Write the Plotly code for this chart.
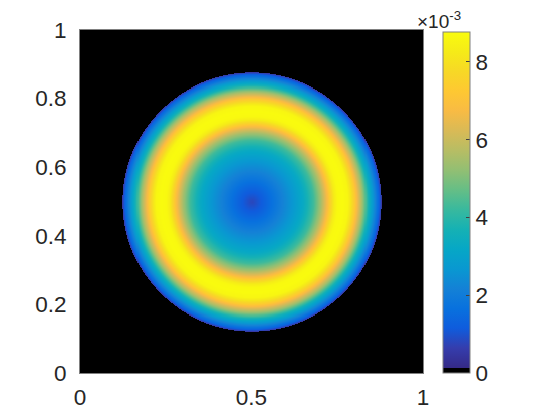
import numpy as np
import plotly.graph_objects as go

# radial profile (centre at 0.5, 0.5)
radius = [0.0, 0.03, 0.06, 0.09, 0.12, 0.15, 0.18, 0.20, 0.22, 0.23, 0.24,
          0.25, 0.265, 0.28, 0.29, 0.30, 0.32, 0.34, 0.36, 0.37, 0.377]
value = [0.8, 1.2, 1.7, 2.2, 2.7, 3.3, 4.3, 5.4, 6.8, 7.6, 8.3,
         8.7, 8.77, 8.6, 8.0, 7.3, 5.6, 3.6, 2.1, 1.3, 0.5]  # x 1e-3
disk_radius = 0.377
zmax = 8.77e-3

cb_ticks = [0, 2, 4, 6, 8]
x_ticks = [0, 0.5, 1]
y_ticks = [0, 0.2, 0.4, 0.6, 0.8, 1]

# grid
n = 341
xs = np.linspace(0, 1, n)
ys = np.linspace(0, 1, n)
X, Y = np.meshgrid(xs, ys)
R = np.hypot(X - 0.5, Y - 0.5)
Z = np.interp(R, radius, value) * 1e-3
Z[R > disk_radius] = 0.0

# black + parula colormap
parula = [
    (0.2081, 0.1663, 0.5292), (0.2081, 0.2386, 0.6771), (0.0591, 0.3598, 0.8683),
    (0.0329, 0.4430, 0.8720), (0.0779, 0.5040, 0.8384), (0.0343, 0.5966, 0.8199),
    (0.0228, 0.6535, 0.7768), (0.0843, 0.6928, 0.7062), (0.2178, 0.7250, 0.6193),
    (0.3953, 0.7459, 0.5244), (0.5709, 0.7485, 0.4494), (0.7184, 0.7411, 0.3905),
    (0.8507, 0.7299, 0.3360), (0.9739, 0.7314, 0.2666), (0.9955, 0.7861, 0.1967),
    (0.9697, 0.8481, 0.1475), (0.9598, 0.9218, 0.0948), (0.9763, 0.9831, 0.0538),
]
b = 1 / 65
cs = [[0, "rgb(0,0,0)"], [b, "rgb(0,0,0)"]]
for i, c in enumerate(parula):
    pos = b + (1 - b) * i / (len(parula) - 1)
    cs.append([pos, "rgb(%d,%d,%d)" % tuple(int(round(v * 255)) for v in c)])

font = dict(family="Liberation Sans, Arial, sans-serif", size=22.5, color="#262626")

fig = go.Figure(go.Heatmap(
    x=xs, y=ys, z=Z, zmin=0, zmax=zmax, colorscale=cs, zsmooth="best",
    colorbar=dict(
        x=1.058, xanchor="left", y=0, yanchor="bottom", len=0.994,
        xpad=0, ypad=0,
        thickness=27, outlinecolor="#808080", outlinewidth=1,
        tickvals=[t * 1e-3 for t in cb_ticks], ticktext=[str(t) for t in cb_ticks],
        ticks="inside", ticklen=4, tickcolor="#404040", tickfont=font,
    ),
))

# page body adds an 8px offset, so the figure is 8px smaller each way
fig.update_layout(
    width=552, height=412,
    margin=dict(l=72, r=137, t=22, b=47),
    paper_bgcolor="white", plot_bgcolor="black",
    font=font,
    annotations=[dict(
        text="×10<sup>-3</sup>", xref="paper", yref="paper",
        x=0.98, y=1.0, xanchor="left", yanchor="bottom", yshift=-3,
        borderpad=0,
        showarrow=False, font=dict(family=font["family"], size=19, color="#262626"),
    )],
)
fig.update_xaxes(range=[0, 1], tickvals=x_ticks, ticktext=["0", "0.5", "1"],
                 showgrid=False, zeroline=False, showline=True, linecolor="#808080",
                 mirror=True, ticks="", ticklabelstandoff=4, automargin=False)
fig.update_yaxes(range=[0, 1], tickvals=y_ticks, ticktext=["0", "0.2", "0.4", "0.6", "0.8", "1"],
                 showgrid=False, zeroline=False, showline=True, linecolor="#808080",
                 mirror=True, ticks="", ticklabelstandoff=8, automargin=False)

fig.write_html("out.html")
